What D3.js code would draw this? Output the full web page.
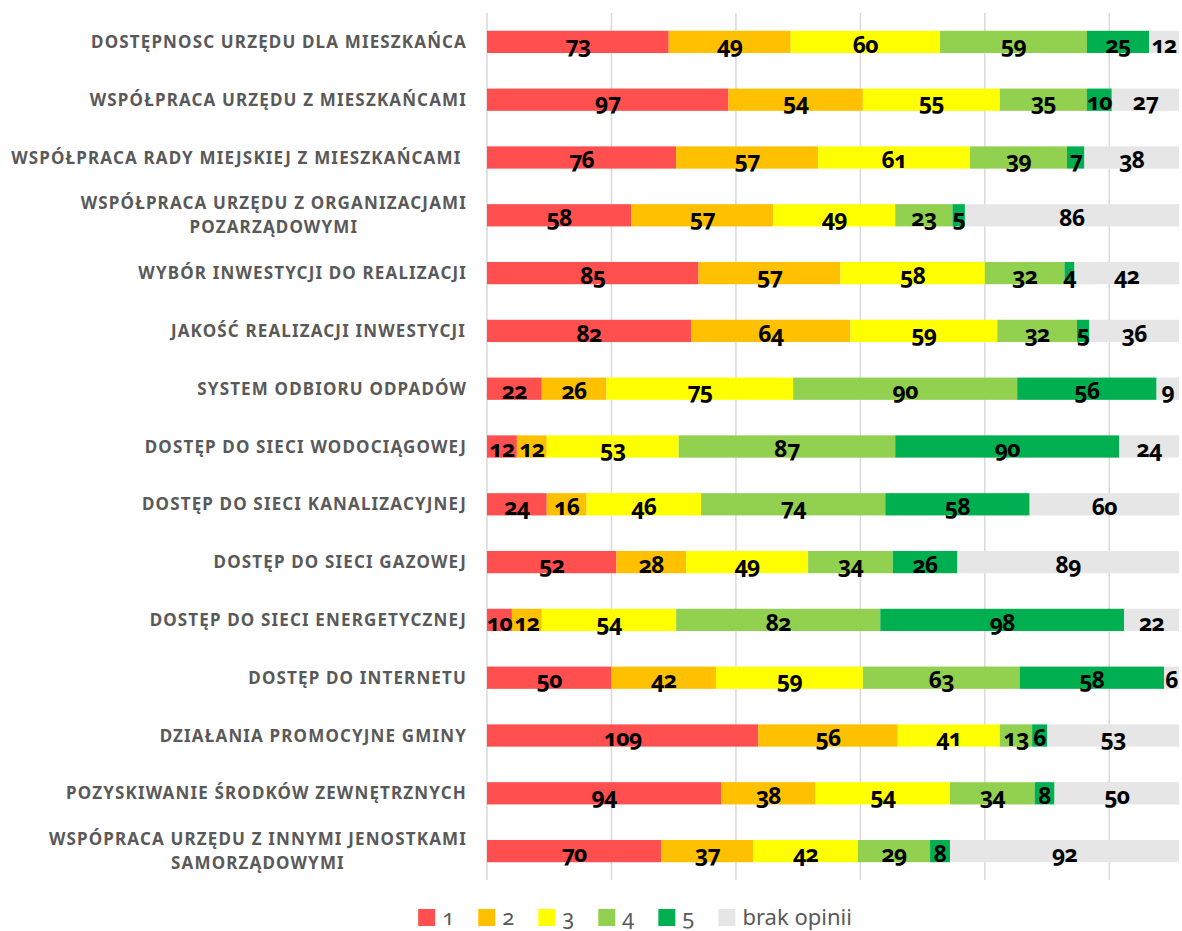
<!DOCTYPE html>
<html>
<head>
<meta charset="utf-8">
<script src="https://cdn.jsdelivr.net/npm/d3@7"></script>
<style>
  body { margin: 0; background: #fff; }
  svg text { font-family: "Noto Sans", "Open Sans", sans-serif; }
</style>
</head>
<body>
<div id="chart"></div>
<script>
let width = 1182, height = 931

let categories = [
    ["DOSTĘPNOSC URZĘDU DLA MIESZKAŃCA"],
    ["WSPÓŁPRACA URZĘDU Z MIESZKAŃCAMI"],
    ["WSPÓŁPRACA RADY MIEJSKIEJ Z MIESZKAŃCAMI "],
    ["WSPÓŁPRACA URZĘDU Z ORGANIZACJAMI", "POZARZĄDOWYMI"],
    ["WYBÓR INWESTYCJI DO REALIZACJI"],
    ["JAKOŚĆ REALIZACJI INWESTYCJI"],
    ["SYSTEM ODBIORU ODPADÓW"],
    ["DOSTĘP DO SIECI WODOCIĄGOWEJ"],
    ["DOSTĘP DO SIECI KANALIZACYJNEJ"],
    ["DOSTĘP DO SIECI GAZOWEJ"],
    ["DOSTĘP DO SIECI ENERGETYCZNEJ"],
    ["DOSTĘP DO INTERNETU"],
    ["DZIAŁANIA PROMOCYJNE GMINY"],
    ["POZYSKIWANIE ŚRODKÓW ZEWNĘTRZNYCH"],
    ["WSPÓPRACA URZĘDU Z INNYMI JENOSTKAMI", "SAMORZĄDOWYMI"]
]

let seriesNames = ["1", "2", "3", "4", "5", "brak opinii"]
let seriesColors = ["#ff4f4f", "#ffc000", "#ffff00", "#92d050", "#00b050", "#e6e6e6"]

let s1 = [73, 97, 76, 58, 85, 82, 22, 12, 24, 52, 10, 50, 109, 94, 70]
let s2 = [49, 54, 57, 57, 57, 64, 26, 12, 16, 28, 12, 42, 56, 38, 37]
let s3 = [60, 55, 61, 49, 58, 59, 75, 53, 46, 49, 54, 59, 41, 54, 42]
let s4 = [59, 35, 39, 23, 32, 32, 90, 87, 74, 34, 82, 63, 13, 34, 29]
let s5 = [25, 10, 7, 5, 4, 5, 56, 90, 58, 26, 98, 58, 6, 8, 8]
let sBrak = [12, 27, 38, 86, 42, 36, 9, 24, 60, 89, 22, 6, 53, 50, 92]

let xTicks = [0, 50, 100, 150, 200, 250]

// table for d3.stack
let rows = categories.map((c, i) => ({
    idx: i,
    "1": s1[i], "2": s2[i], "3": s3[i], "4": s4[i], "5": s5[i], "brak opinii": sBrak[i]
}))
let stacked = d3.stack().keys(seriesNames)(rows)

let svg = d3.select("#chart").append("svg")
    .attr("width", width)
    .attr("height", height)

let plot = {left: 487, right: 1179, top: 13, bottom: 880}

let x = d3.scaleLinear()
    .domain([0, d3.max(rows, r => d3.sum(seriesNames, k => r[k]))])
    .range([plot.left, plot.right])

let y = d3.scaleBand()
    .domain(d3.range(categories.length))
    .range([plot.top, plot.bottom])
    .paddingInner(0.615)
    .paddingOuter(0.3075)

// gridlines
svg.append("g").selectAll("line")
    .data(xTicks)
    .join("line")
    .attr("x1", d => x(d)).attr("x2", d => x(d))
    .attr("y1", plot.top).attr("y2", plot.bottom)
    .style("stroke", "#d9d9d9")
    .style("stroke-width", 1.5)

// bars
let layers = svg.append("g").selectAll("g")
    .data(stacked)
    .join("g")
    .attr("fill", (d, i) => seriesColors[i])

layers.selectAll("rect")
    .data(d => d)
    .join("rect")
    .attr("x", d => x(d[0]))
    .attr("width", d => x(d[1]) - x(d[0]))
    .attr("y", d => y(d.data.idx))
    .attr("height", y.bandwidth())

// value labels
let labelLayers = svg.append("g").selectAll("g")
    .data(stacked)
    .join("g")

labelLayers.selectAll("text")
    .data(d => d.map(v => ({v: v, key: d.key})))
    .join("text")
    .attr("x", d => (x(d.v[0]) + x(d.v[1])) / 2)
    .attr("y", d => y(d.v.data.idx) + y.bandwidth() - 0.5)
    .attr("text-anchor", "middle")
    .style("font-size", "23px")
    .style("font-weight", 700)
    .style("font-variant-numeric", "oldstyle-nums")
    .style("letter-spacing", "-0.8px")
    .style("fill", "#000")
    .text(d => d.v.data[d.key])

// category labels
let catG = svg.append("g")
categories.forEach((lines, i) => {
    let cy = y(i) + y.bandwidth() / 2
    let lh = 24
    let t = catG.append("text")
        .attr("y", cy - (lines.length - 1) * lh / 2 + 6)
        .attr("text-anchor", "middle")
        .style("font-size", "17px")
        .style("font-weight", 700)
        .style("letter-spacing", "1.15px")
        .style("fill", "#595959")
        .style("white-space", "pre")
    lines.forEach((l, j) => {
        t.append("tspan")
            .attr("x", 0)
            .attr("dy", j == 0 ? 0 : lh)
            .text(l)
    })
    // right-align the block, lines centered within it
    let w = t.node().getBBox().width
    t.selectAll("tspan").attr("x", 467 - w / 2)
})

// legend
let legend = svg.append("g")
let lx = 0
seriesNames.forEach((name, i) => {
    let g = legend.append("g").attr("transform", "translate(" + lx + ",0)")
    g.append("rect")
        .attr("x", 0).attr("y", 909)
        .attr("width", 17).attr("height", 17)
        .attr("fill", seriesColors[i])
    let t = g.append("text")
        .attr("x", 24).attr("y", 925)
        .style("font-size", "22px")
        .style("font-variant-numeric", "oldstyle-nums")
        .style("fill", "#595959")
        .text(name)
    lx += 24 + t.node().getComputedTextLength() + 24
})
let legW = lx - 24
legend.attr("transform", "translate(" + (635 - legW / 2) + ",0)")
</script>
</body>
</html>
